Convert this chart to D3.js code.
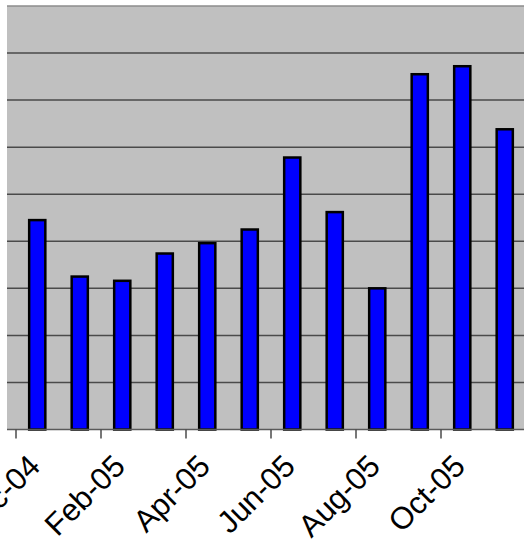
<!DOCTYPE html>
<html lang="en">
<head>
  <meta charset="UTF-8">
  <title>Monthly bars</title>
  <script src="https://d3js.org/d3.v7.min.js"></script>
  <style>
    body { margin: 0; background: #fff; }
    svg { display: block; }
  </style>
</head>
<body>
  <svg id="chart"></svg>
  <script>
    // months shown as categories (Dec-04 .. Nov-05)
    const months = ['Dec-04', 'Jan-05', 'Feb-05', 'Mar-05', 'Apr-05', 'May-05',
                    'Jun-05', 'Jul-05', 'Aug-05', 'Sep-05', 'Oct-05', 'Nov-05'];
    // values (gridline step = 10)
    const values = [44.5, 32.5, 31.6, 37.4, 39.6, 42.5, 57.8, 46.2, 30.0, 75.5, 77.2, 63.8];
    // only every other month gets a label
    const tickLabels = ['Dec-04', 'Feb-05', 'Apr-05', 'Jun-05', 'Aug-05', 'Oct-05'];
    const gridValues = [10, 20, 30, 40, 50, 60, 70, 80];

    const width = 524, height = 547;
    const plot = { left: 7, top: 6, right: 530, bottom: 429.5 };

    const svg = d3.select('#chart')
      .attr('width', width)
      .attr('height', height);

    const x = d3.scaleBand()
      .domain(months)
      .range([16, 526])
      .paddingInner(0.62)
      .paddingOuter(0.31);

    const y = d3.scaleLinear()
      .domain([0, 90])
      .range([plot.bottom, plot.top]);

    // plot background
    svg.append('rect')
      .attr('x', plot.left)
      .attr('y', plot.top)
      .attr('width', plot.right - plot.left)
      .attr('height', plot.bottom - plot.top)
      .attr('fill', '#c0c0c0');

    // top border of plot area
    svg.append('line')
      .attr('x1', plot.left).attr('x2', plot.right)
      .attr('y1', y(90)).attr('y2', y(90))
      .attr('stroke', '#8c8c8c')
      .attr('stroke-width', 1.5);

    // gridlines
    svg.selectAll('.grid')
      .data(gridValues)
      .enter()
      .append('line')
      .attr('class', 'grid')
      .attr('x1', plot.left).attr('x2', plot.right)
      .attr('y1', d => y(d)).attr('y2', d => y(d))
      .attr('stroke', '#4a4a4a')
      .attr('stroke-width', 1.5);

    // bars
    svg.selectAll('.bar')
      .data(values)
      .enter()
      .append('rect')
      .attr('class', 'bar')
      .attr('x', (d, i) => x(months[i]))
      .attr('y', d => y(d))
      .attr('width', x.bandwidth())
      .attr('height', d => y(0) - y(d))
      .attr('fill', '#0000ff')
      .attr('stroke', '#000')
      .attr('stroke-width', 2.5);

    // x axis line
    svg.append('line')
      .attr('x1', plot.left).attr('x2', plot.right)
      .attr('y1', y(0)).attr('y2', y(0))
      .attr('stroke', '#5a5a5a')
      .attr('stroke-width', 1.5);

    // ticks sit on category boundaries, every second month
    const tickX = d => x(d) - x.step() * x.paddingOuter();

    svg.selectAll('.tick')
      .data(tickLabels)
      .enter()
      .append('line')
      .attr('class', 'tick')
      .attr('x1', d => tickX(d)).attr('x2', d => tickX(d))
      .attr('y1', y(0)).attr('y2', y(0) + 9)
      .attr('stroke', '#4a4a4a')
      .attr('stroke-width', 1.5);

    svg.selectAll('.label')
      .data(tickLabels)
      .enter()
      .append('text')
      .attr('class', 'label')
      .attr('transform', d => `translate(${tickX(d) + 26}, 468) rotate(-45)`)
      .attr('text-anchor', 'end')
      .attr('font-family', '"Liberation Sans", Arial, sans-serif')
      .attr('font-size', '31px')
      .attr('fill', '#000')
      .text(d => d);
  </script>
</body>
</html>
